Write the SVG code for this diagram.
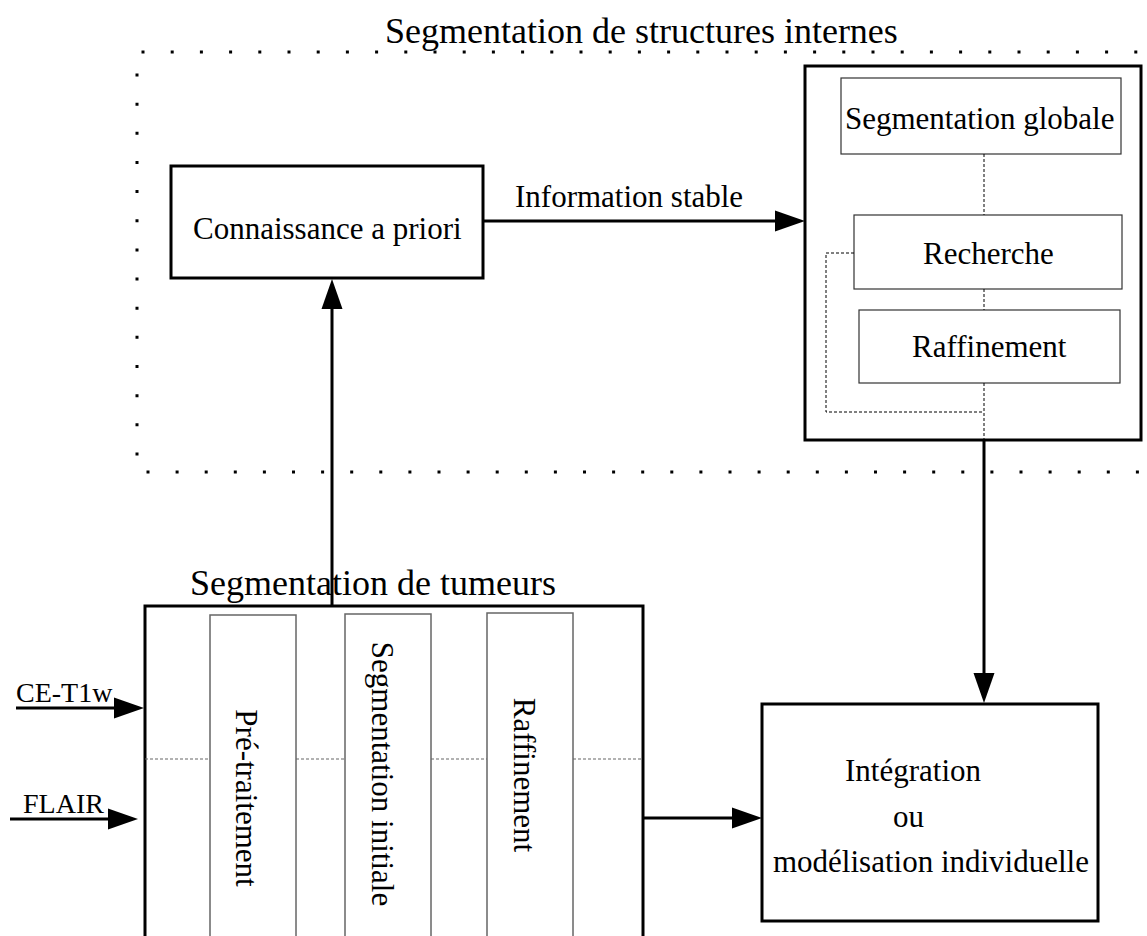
<svg xmlns="http://www.w3.org/2000/svg" width="1147" height="936" viewBox="0 0 1147 936">
<style>
text{font-family:"Liberation Serif","Times New Roman",serif;fill:#000}
.t31{font-size:31px}
.t36{font-size:36px}
.t28{font-size:28px}
.box{fill:#fff;stroke:#000;stroke-width:3}
.inner{fill:#fff;stroke:#333;stroke-width:1.2}
.gbox{fill:#fff;stroke:#666;stroke-width:1.5}
.conn{stroke:#000;stroke-width:3;fill:none}
.dash{stroke:#000;stroke-width:1;stroke-dasharray:3 2;fill:none}
.gdash{stroke:#666;stroke-width:1.2;stroke-dasharray:3 2;fill:none}
.dots{stroke:#000;stroke-width:3;fill:none}
</style>
<defs>
<marker id="arr" markerUnits="userSpaceOnUse" markerWidth="32" markerHeight="22" refX="10" refY="10.5" orient="auto" overflow="visible">
<path d="M0,0 L30,10.5 L0,21 Z" fill="#000"/>
</marker>
</defs>
<rect width="1147" height="936" fill="#fff"/>

<g id="frame">
<line class="dots" x1="141.5" y1="52" x2="1147" y2="52" stroke-dasharray="3 26.2"/>
<line class="dots" x1="146.5" y1="472" x2="1147" y2="472" stroke-dasharray="3 26.1"/>
<line class="dots" x1="137" y1="73.5" x2="137" y2="456" stroke-dasharray="3 26.15"/>
<text class="t36" x="385" y="43">Segmentation de structures internes</text>
</g>

<g id="connaissance">
<rect class="box" x="171" y="166" width="312" height="112"/>
<text class="t31" x="193" y="239">Connaissance a priori</text>
</g>

<g id="structures">
<rect class="box" x="805" y="66" width="336" height="374"/>
</g>
<g id="seg-globale">
<rect class="inner" x="841" y="78" width="280" height="76"/>
<text class="t31" x="845" y="129">Segmentation globale</text>
</g>
<g id="recherche">
<rect class="inner" x="854" y="215" width="268" height="74"/>
<text class="t31" x="923" y="264">Recherche</text>
</g>
<g id="raffinement-struct">
<rect class="inner" x="859" y="310" width="261" height="73"/>
<text class="t31" x="912" y="357">Raffinement</text>
</g>

<g id="tumeurs">
<rect class="box" x="145" y="606" width="498" height="345"/>
<text class="t36" x="190" y="595">Segmentation de tumeurs</text>
</g>
<g id="pretraitement">
<rect class="gbox" x="210" y="615" width="86" height="330"/>
<text class="t31" text-anchor="middle" transform="translate(236,798) rotate(90)">Pré-traitement</text>
</g>
<g id="seg-initiale">
<rect class="gbox" x="345" y="614" width="86" height="330"/>
<text class="t31" text-anchor="middle" transform="translate(372,774) rotate(90)">Segmentation initiale</text>
</g>
<g id="raffinement-tum">
<rect class="gbox" x="487" y="613" width="86" height="330"/>
<text class="t31" text-anchor="middle" transform="translate(513.5,775) rotate(90)">Raffinement</text>
</g>

<g id="integration">
<rect class="box" x="762" y="704" width="336" height="217"/>
<text class="t31" x="845" y="781">Intégration</text>
<text class="t31" x="893" y="827">ou</text>
<text class="t31" x="773" y="872">modélisation individuelle</text>
</g>

<g id="inputs">
<text class="t28" x="16" y="702">CE-T1w</text>
<text class="t28" x="23" y="813">FLAIR</text>
</g>

<g id="connectors">
<line class="conn" x1="483" y1="221" x2="785" y2="221" marker-end="url(#arr)"/>
<text class="t31" x="515" y="207">Information stable</text>
<line class="conn" x1="332" y1="606" x2="332" y2="299" marker-end="url(#arr)"/>
<line class="conn" x1="984" y1="440" x2="984" y2="683" marker-end="url(#arr)"/>
<line class="conn" x1="643" y1="818" x2="742" y2="818" marker-end="url(#arr)"/>
<line class="conn" x1="16" y1="708" x2="124" y2="708" marker-end="url(#arr)"/>
<line class="conn" x1="10" y1="819" x2="118" y2="819" marker-end="url(#arr)"/>
<line class="dash" x1="984" y1="154" x2="984" y2="215"/>
<line class="dash" x1="984" y1="289" x2="984" y2="310"/>
<polyline class="dash" points="854,253 826,253 826,412 984,412"/>
<line class="dash" x1="984" y1="383" x2="984" y2="440"/>
<line class="gdash" x1="145" y1="759" x2="210" y2="759"/>
<line class="gdash" x1="296" y1="759" x2="345" y2="759"/>
<line class="gdash" x1="431" y1="759" x2="487" y2="759"/>
<line class="gdash" x1="573" y1="759" x2="643" y2="759"/>
</g>
</svg>
